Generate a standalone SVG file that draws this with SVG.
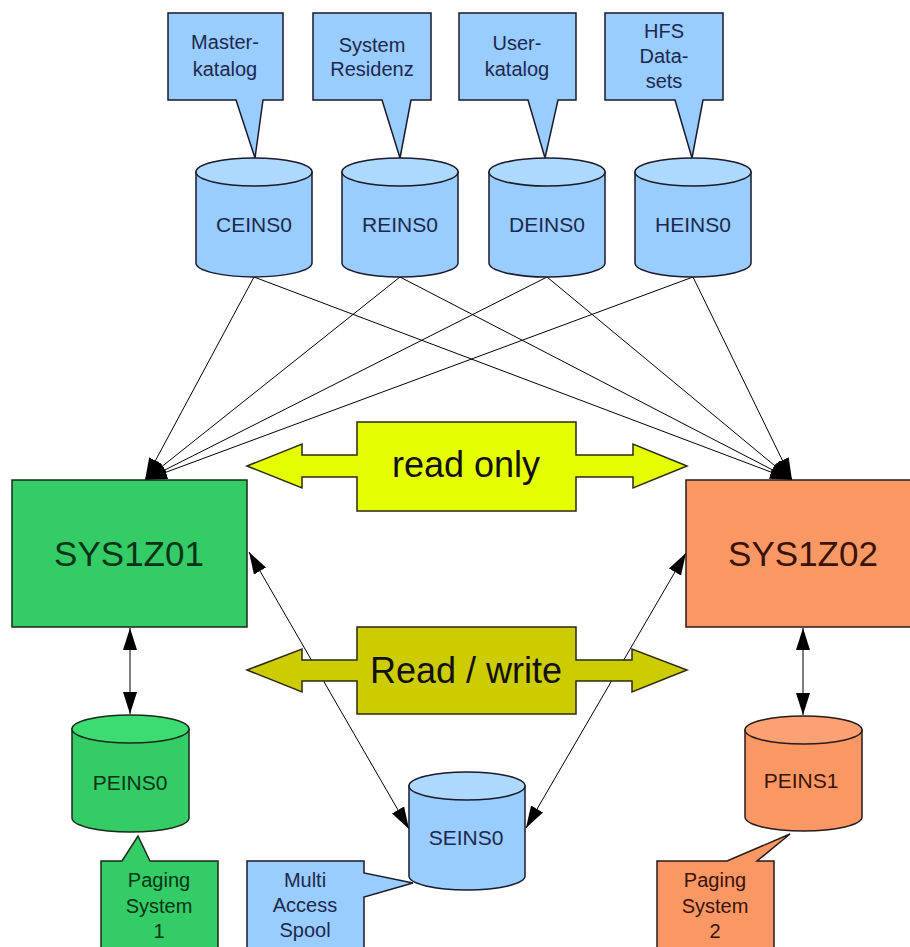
<svg xmlns="http://www.w3.org/2000/svg" width="910" height="947" viewBox="0 0 910 947">
<defs>
<style>
.t{font-family:"Liberation Sans",Arial,sans-serif;text-anchor:middle;}
.s{font-size:20px;}
.c{font-size:21px;}
.big{font-size:35px;}
.lb{font-size:36px;fill:#111;}
.blue{fill:#99ccff;stroke:#1a1a2a;stroke-width:1.5;}
.bluetop{fill:#aed9ff;stroke:#1a1a2a;stroke-width:1.5;}
.green{fill:#33cc66;stroke:#1a2a1a;stroke-width:1.5;}
.greentop{fill:#3ddc72;stroke:#1a2a1a;stroke-width:1.5;}
.orange{fill:#fa9865;stroke:#2a1a1a;stroke-width:1.5;}
.orangetop{fill:#fca173;stroke:#2a1a1a;stroke-width:1.5;}
.tb{fill:#1c2850;}
.tg{fill:#0a3318;}
.to{fill:#3a1208;}
.ln{stroke:#000;stroke-width:1;fill:none;}
</style>
<marker id="ah" markerUnits="userSpaceOnUse" markerWidth="22" markerHeight="14" refX="22" refY="7" orient="auto-start-reverse">
<path d="M0,0 L22,7 L0,14 Z" fill="#000"/>
</marker>
</defs>
<rect width="910" height="947" fill="#fff"/>

<g id="connectors">
<line class="ln" x1="254" y1="277" x2="145" y2="480" marker-end="url(#ah)"/>
<line class="ln" x1="400" y1="277" x2="145" y2="480" marker-end="url(#ah)"/>
<line class="ln" x1="547" y1="277" x2="145" y2="480" marker-end="url(#ah)"/>
<line class="ln" x1="693" y1="277" x2="145" y2="480" marker-end="url(#ah)"/>
<line class="ln" x1="254" y1="277" x2="792" y2="480" marker-end="url(#ah)"/>
<line class="ln" x1="400" y1="277" x2="792" y2="480" marker-end="url(#ah)"/>
<line class="ln" x1="547" y1="277" x2="792" y2="480" marker-end="url(#ah)"/>
<line class="ln" x1="693" y1="277" x2="792" y2="480" marker-end="url(#ah)"/>
<line class="ln" x1="249" y1="552" x2="409" y2="829" marker-start="url(#ah)" marker-end="url(#ah)"/>
<line class="ln" x1="686" y1="553" x2="526" y2="828" marker-start="url(#ah)" marker-end="url(#ah)"/>
<line class="ln" x1="130" y1="628" x2="130" y2="714" marker-start="url(#ah)" marker-end="url(#ah)"/>
<line class="ln" x1="803" y1="628" x2="803" y2="715" marker-start="url(#ah)" marker-end="url(#ah)"/>
</g>

<g id="callout-master">
<path class="blue" d="M168,13 H283 V100 H263 L255,158 L236,100 H168 Z"/>
<text class="t s tb" x="225" y="49">Master-</text>
<text class="t s tb" x="225" y="76">katalog</text>
</g>
<g id="callout-system">
<path class="blue" d="M313,13 H431 V100 H411 L400,158 L382,100 H313 Z"/>
<text class="t s tb" x="372" y="52">System</text>
<text class="t s tb" x="372" y="76">Residenz</text>
</g>
<g id="callout-user">
<path class="blue" d="M459,13 H576 V100 H558 L545,158 L528,100 H459 Z"/>
<text class="t s tb" x="517" y="50">User-</text>
<text class="t s tb" x="517" y="76">katalog</text>
</g>
<g id="callout-hfs">
<path class="blue" d="M605,13 H723 V100 H703 L692,158 L675,100 H605 Z"/>
<text class="t s tb" x="664" y="38">HFS</text>
<text class="t s tb" x="664" y="63">Data-</text>
<text class="t s tb" x="664" y="88">sets</text>
</g>

<g id="CEINS0">
<path class="blue" d="M196,172 V263 A58,14 0 0 0 312,263 V172 Z"/>
<ellipse class="bluetop" cx="254" cy="172" rx="58" ry="14"/>
<text class="t c tb" x="254" y="232">CEINS0</text>
</g>
<g id="REINS0">
<path class="blue" d="M342,172 V263 A58,14 0 0 0 458,263 V172 Z"/>
<ellipse class="bluetop" cx="400" cy="172" rx="58" ry="14"/>
<text class="t c tb" x="400" y="232">REINS0</text>
</g>
<g id="DEINS0">
<path class="blue" d="M489,172 V263 A58,14 0 0 0 605,263 V172 Z"/>
<ellipse class="bluetop" cx="547" cy="172" rx="58" ry="14"/>
<text class="t c tb" x="547" y="232">DEINS0</text>
</g>
<g id="HEINS0">
<path class="blue" d="M635,172 V263 A58,14 0 0 0 751,263 V172 Z"/>
<ellipse class="bluetop" cx="693" cy="172" rx="58" ry="14"/>
<text class="t c tb" x="693" y="232">HEINS0</text>
</g>

<g id="SYS1Z01">
<rect class="green" x="12" y="480" width="235" height="147"/>
<text class="t big tg" x="129" y="566">SYS1Z01</text>
</g>
<g id="SYS1Z02">
<rect class="orange" x="686" y="480" width="235" height="147"/>
<text class="t big to" x="803" y="566">SYS1Z02</text>
</g>

<g id="read-only">
<path d="M247,466 L302,444 V455 H357 V422 H576 V455 H633 V444 L687,466 L633,488 V477 H576 V511 H357 V477 H302 V488 Z" fill="#e6ff00" stroke="#2a2a10" stroke-width="1.5"/>
<text class="t lb" x="466" y="477">read only</text>
</g>
<g id="read-write">
<path d="M247,670 L302,649 V660 H357 V627 H576 V660 H632 V649 L687,670 L632,692 V681 H576 V714 H357 V681 H302 V692 Z" fill="#cccc00" stroke="#2a2a10" stroke-width="1.5"/>
<text class="t lb" x="466" y="683">Read / write</text>
</g>

<g id="PEINS0">
<path class="green" d="M72,729 V818 A58.5,14 0 0 0 189,818 V729 Z"/>
<ellipse class="greentop" cx="130.5" cy="729" rx="58.5" ry="14"/>
<text class="t c tg" x="130" y="790">PEINS0</text>
</g>
<g id="PEINS1">
<path class="orange" d="M745,730 V817 A58.5,14 0 0 0 862,817 V730 Z"/>
<ellipse class="orangetop" cx="803.5" cy="730" rx="58.5" ry="14"/>
<text class="t c to" x="801" y="788">PEINS1</text>
</g>
<g id="SEINS0">
<path class="blue" d="M409,786 V876 A58,14 0 0 0 525,876 V786 Z"/>
<ellipse class="bluetop" cx="467" cy="786" rx="58" ry="14"/>
<text class="t c tb" x="466" y="845">SEINS0</text>
</g>

<g id="callout-paging1">
<path class="green" d="M101,861 H122 L138,836 L150,861 H218 V960 H101 Z"/>
<text class="t s tg" x="159" y="887">Paging</text>
<text class="t s tg" x="159" y="913">System</text>
<text class="t s tg" x="159" y="938">1</text>
</g>
<g id="callout-spool">
<path class="blue" d="M247,861 H364 V873 L413,883 L364,897 V960 H247 Z"/>
<text class="t s tb" x="305" y="887">Multi</text>
<text class="t s tb" x="305" y="912">Access</text>
<text class="t s tb" x="305" y="937">Spool</text>
</g>
<g id="callout-paging2">
<path class="orange" d="M657,861 H727 L790,834 L757,861 H774 V960 H657 Z"/>
<text class="t s to" x="715" y="887">Paging</text>
<text class="t s to" x="715" y="913">System</text>
<text class="t s to" x="715" y="938">2</text>
</g>
</svg>
